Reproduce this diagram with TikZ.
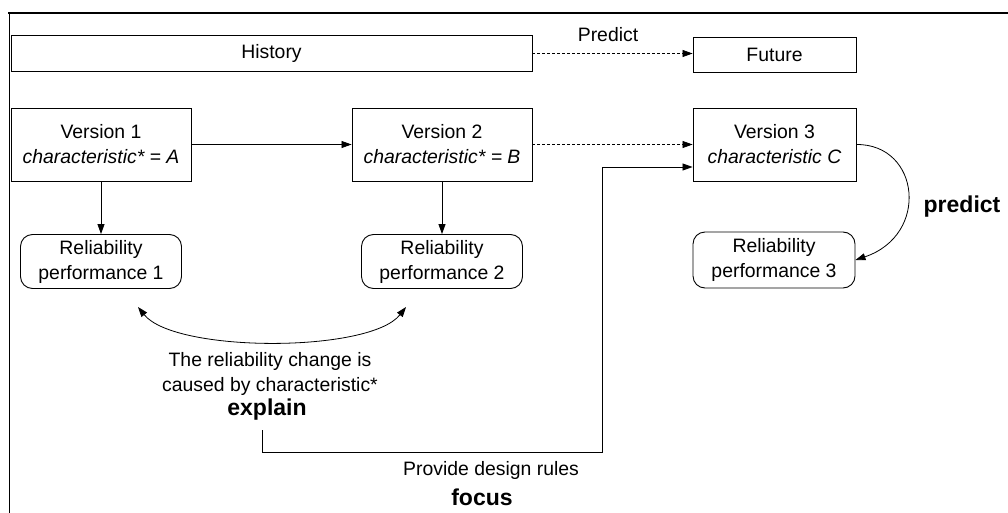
\documentclass[tikz,border=0pt]{standalone}
\usepackage{fontspec}
\setmainfont{Liberation Sans}
\usetikzlibrary{arrows.meta}
\begin{document}
\begin{tikzpicture}[x=1pt,y=-1pt,
  every node/.style={font=\fontsize{19.4pt}{25pt}\selectfont, inner sep=0pt},
  vbox/.style={draw, line width=0.9pt, align=center, minimum height=73pt},
  rbox/.style={draw, rounded corners=12pt, line width=0.9pt, align=center, minimum height=54pt},
  arr/.style={-{Triangle[length=10pt,width=7pt]}, line width=0.8pt},
  darr/.style={arr, dash pattern=on 3pt off 2pt},
  dblarr/.style={{Triangle[length=10pt,width=7pt]}-{Triangle[length=10pt,width=7pt]}, line width=0.8pt},
  lbl/.style={font=\fontsize{23pt}{27pt}\selectfont\bfseries}
]
\useasboundingbox (0,0) rectangle (1008,513);
% frame
\draw[line width=1.6pt] (8,13) -- (1008,13);
\draw[line width=1pt] (9,13) -- (9,513);

% boxes
\node[vbox, minimum width=521pt, minimum height=36pt] (hist) at (271.5,53.5) {History};
\node[vbox, minimum width=163pt, minimum height=35pt] (fut) at (774.5,54.5) {Future};
\node[vbox, minimum width=180pt] (v1) at (101,144.5) {Version 1\\\textit{characteristic* = A}};
\node[vbox, minimum width=180pt] (v2) at (442,144.5) {Version 2\\\textit{characteristic* = B}};
\node[vbox, minimum width=163pt] (v3) at (774.5,144.5) {Version 3\\\textit{characteristic C}};
\node[rbox, minimum width=161pt] (r1) at (101,261.5) {Reliability\\performance 1};
\node[rbox, minimum width=161pt] (r2) at (442,261.5) {Reliability\\performance 2};
\node[rbox, minimum width=162pt, minimum height=56pt] (r3) at (774,260) {Reliability\\performance 3};

% labels
\node (plabel) at (608,35) {Predict};
\node[lbl] (predict) at (962,207) {predict};
\node[align=center] (cause) at (270,373.5) {The reliability change is\\caused by characteristic*};
\node[lbl] (explain) at (267,410) {explain};
\node (rules) at (491,470) {Provide design rules};
\node[lbl] (focus) at (482,497) {focus};

% connectors
\draw[darr] (hist.east) -- (hist.east -| fut.west);
\draw[arr] (v1.east) -- (v2.west);
\draw[darr] (v2.east) -- (v3.west);
\draw[arr] (v1.south) -- (r1.north);
\draw[arr] (v2.south) -- (r2.north);
\draw[arr] (v3.east) .. controls (920,144) and (930,235) .. (r3.east);

\coordinate (c1) at (138,307);
\coordinate (c2) at (406,307);
\draw[dblarr] (c1) .. controls (175,353) and (370,353) .. (c2);

\coordinate (f0) at (262,430);
\coordinate (f1) at (602,452);
\draw[arr] (f0) |- (f1) |- ([yshift=-22.5pt]v3.west);
\end{tikzpicture}
\end{document}
